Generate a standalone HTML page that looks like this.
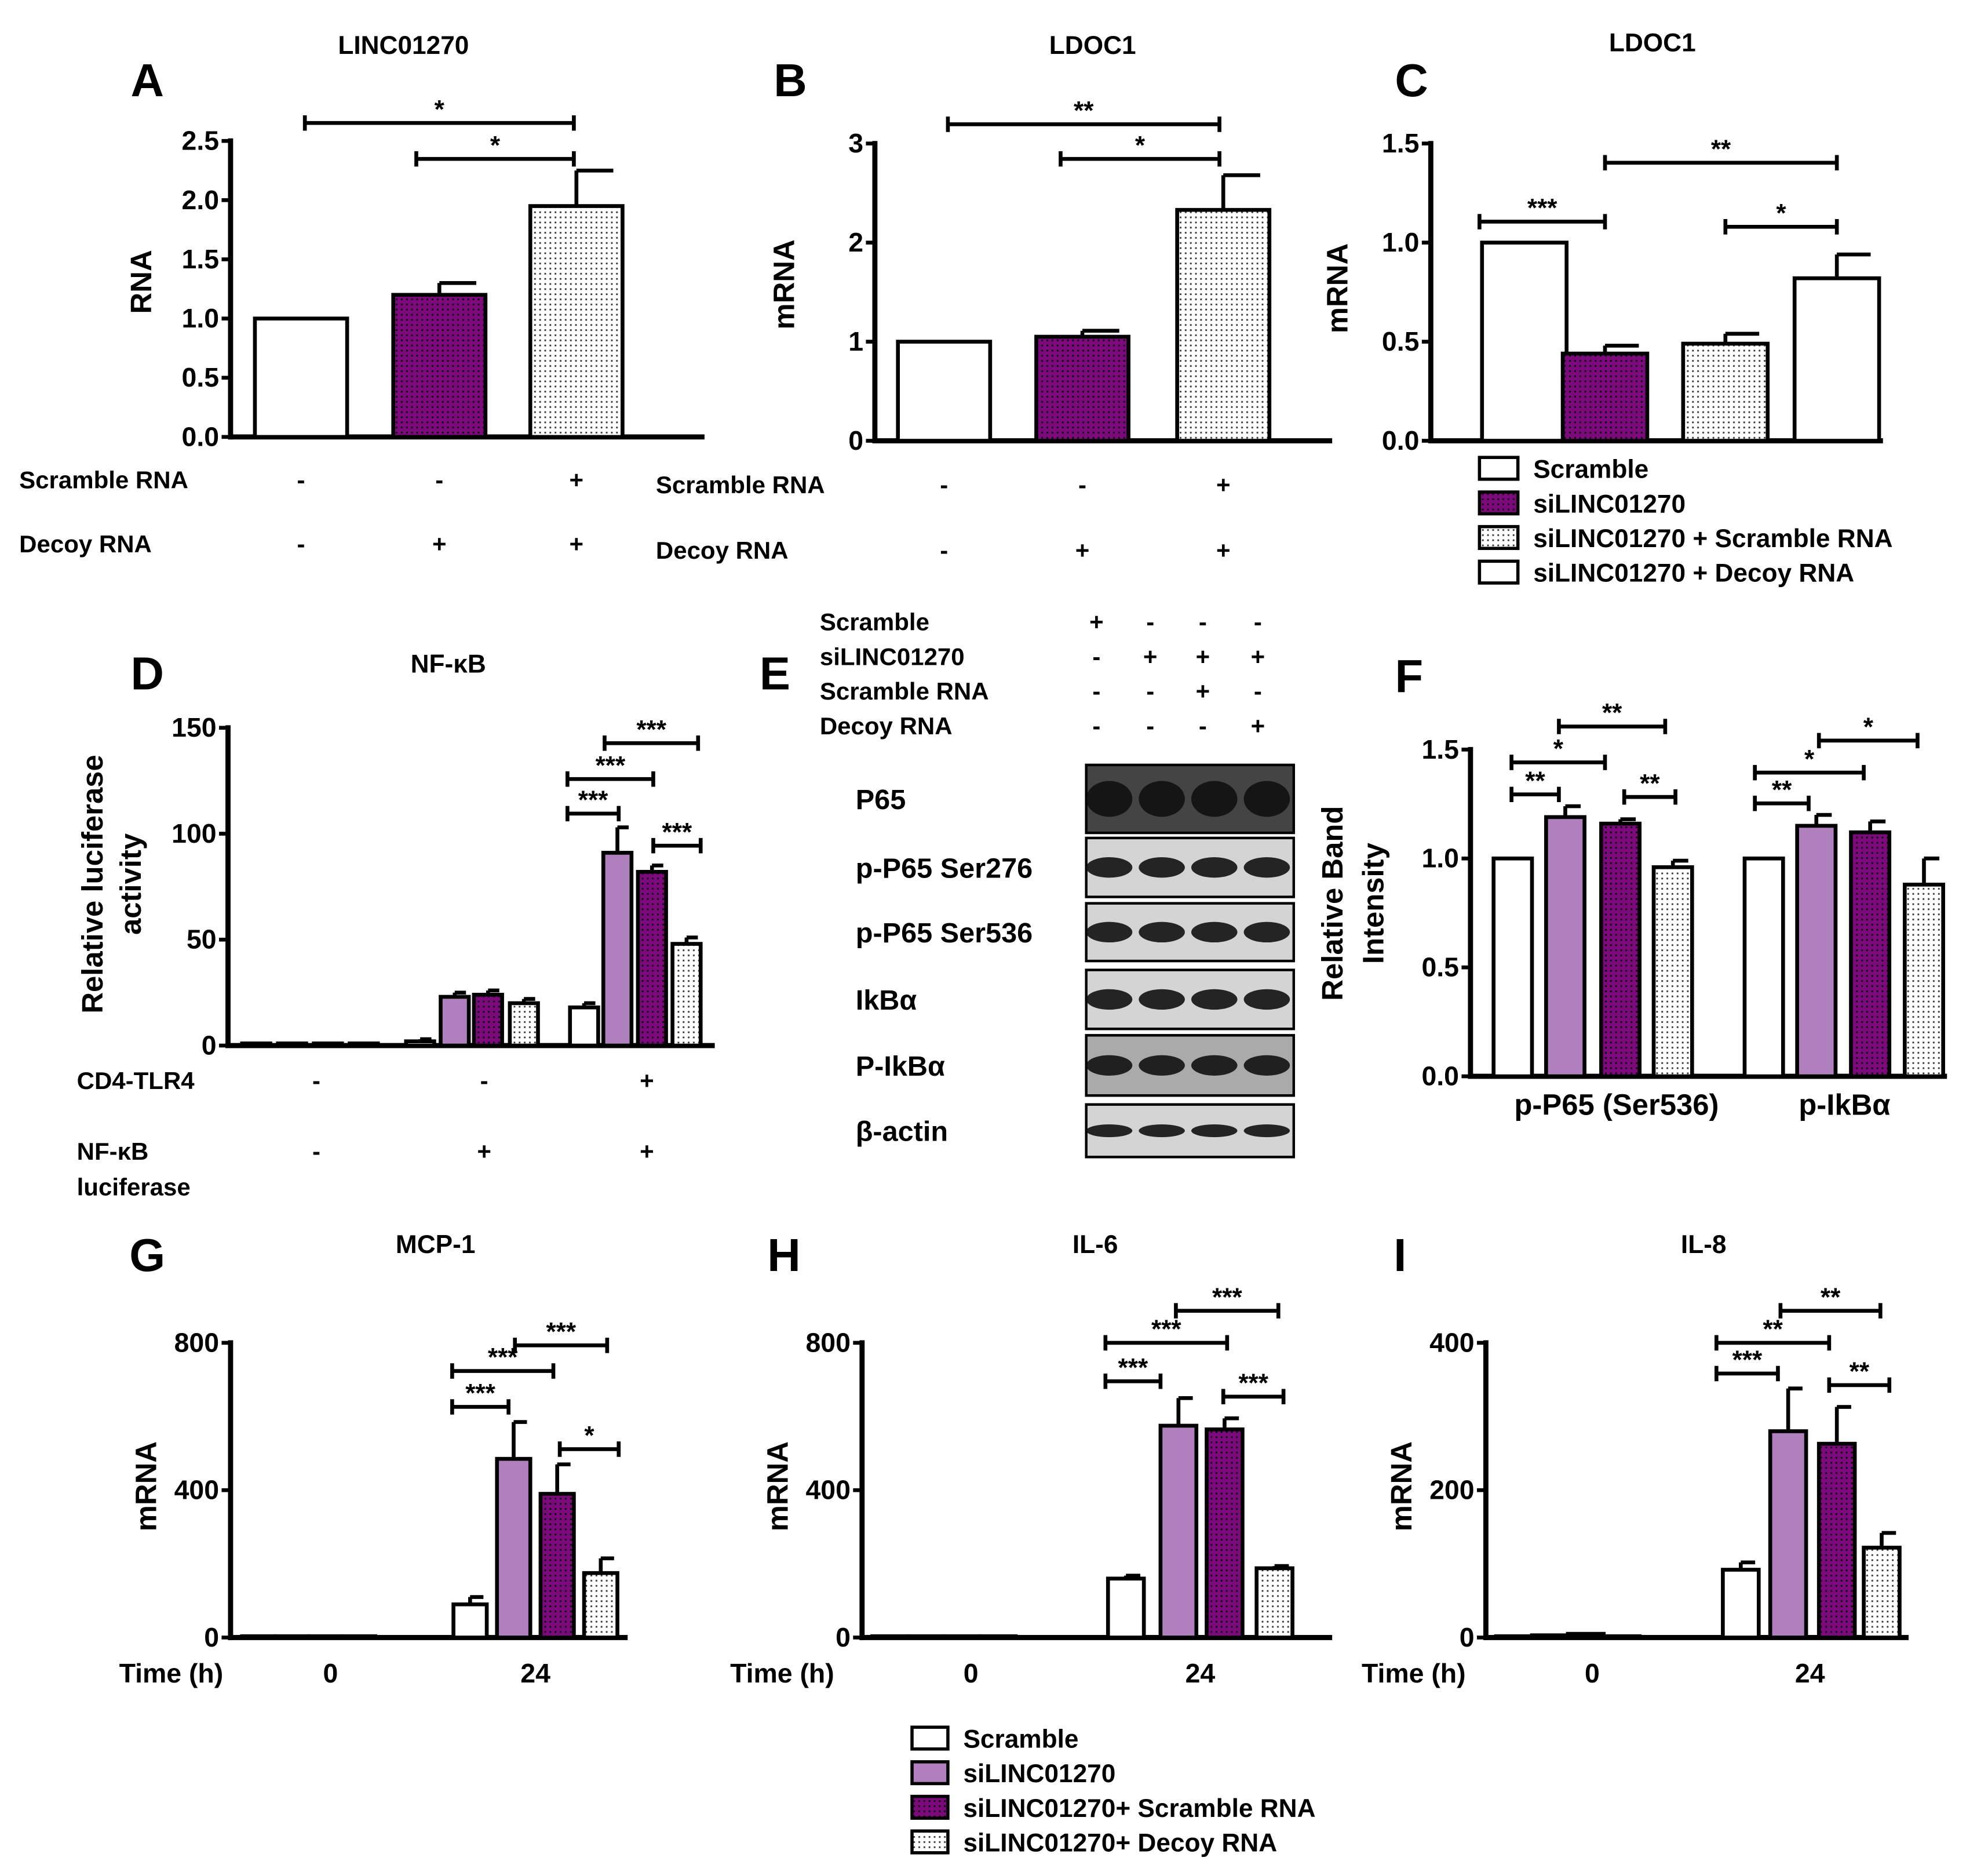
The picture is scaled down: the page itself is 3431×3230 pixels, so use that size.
<!DOCTYPE html>
<html><head><meta charset="utf-8">
<style>
html,body{margin:0;padding:0;background:#fff}
svg{display:block}
text{font-family:"Liberation Sans",Arial,sans-serif;font-weight:bold;fill:#000}
</style></head>
<body>
<svg id="fig" width="3431" height="3230" viewBox="0 0 1552 1461" preserveAspectRatio="none" xmlns="http://www.w3.org/2000/svg">
<defs>
<pattern id="pDark" width="4" height="4" patternUnits="userSpaceOnUse"><rect width="4" height="4" fill="#7d0a7d"/><rect x="1" y="1" width="1.3" height="1.3" fill="#000"/></pattern>
<pattern id="pLight" width="4" height="4" patternUnits="userSpaceOnUse"><rect width="4" height="4" fill="#fff"/><rect x="1" y="1" width="1.3" height="1.3" fill="#333"/></pattern>
</defs>
<g id="root"></g>
</svg>
<script>
// ---------- data ----------
const aCats = ["ctrl","decoy","scr+decoy"];
const aVals = [1.0, 1.2, 1.95];
const aErr  = [0, 0.1, 0.3];
const aTicks = ["0.0","0.5","1.0","1.5","2.0","2.5"];

const bVals = [1.0, 1.05, 2.33];
const bErr  = [0, 0.06, 0.35];
const bTicks = ["0","1","2","3"];

const cVals = [1.0, 0.44, 0.49, 0.82];
const cErr  = [0, 0.04, 0.05, 0.12];
const cTicks = ["0.0","0.5","1.0","1.5"];

const dVals = [[1,1,1,1],[2,23,24,20],[18,91,82,48]];
const dErr  = [[0,0,0,0],[1,2,2,2],[2,12,3,3]];
const dTicks = ["0","50","100","150"];

const fVals = [[1.0,1.19,1.16,0.96],[1.0,1.15,1.12,0.88]];
const fErr  = [[0,0.05,0.02,0.03],[0,0.05,0.05,0.12]];
const fTicks = ["0.0","0.5","1.0","1.5"];
const fCats = ["p-P65 (Ser536)","p-IkBα"];

const gVals = [[2,2,3,2],[90,485,390,175]];
const gErr  = [[0,0,0,0],[20,100,80,40]];
const hVals = [[2,3,3,2],[160,575,565,188]];
const hErr  = [[0,0,0,0],[8,75,30,6]];
const iVals = [[1,3,5,1],[92,280,263,122]];
const iErr  = [[0,0,0,0],[10,58,50,20]];
const ghTicks = ["0","400","800"];
const iTicks = ["0","200","400"];
const timeCats = ["0","24"];

// ---------- helpers ----------
const NS="http://www.w3.org/2000/svg";
const root=document.getElementById('root');
function el(tag,attrs,parent,txt){const e=document.createElementNS(NS,tag);for(const k in attrs)e.setAttribute(k,attrs[k]);if(txt!==undefined)e.textContent=txt;(parent||root).appendChild(e);return e;}
function txt(x,y,s,size,anchor,parent,rot){const a={x:x,y:y,'font-size':size,'text-anchor':anchor||'middle'};if(rot)a.transform=`rotate(-90 ${x} ${y})`;const t=el('text',a,parent,s);


return t;}
const fills=['#fff','#b080be','url(#pDark)','url(#pLight)'];
function scale(y0,y1,max){return v=>y0-(v/max)*(y0-y1);}
function axes(g,x0,x1,y0,y1,ticks,max){
 el('line',{x1:x0,y1:y1-2,x2:x0,y2:y0+2,stroke:'#000','stroke-width':4},g);
 el('line',{x1:x0-2,y1:y0,x2:x1,y2:y0,stroke:'#000','stroke-width':4},g);
 const sy=scale(y0,y1,max);
 ticks.forEach(t=>{const y=sy(parseFloat(t));el('line',{x1:x0-7,y1:y,x2:x0,y2:y,stroke:'#000','stroke-width':3},g);txt(x0-9,y+7,t,21,'end',g);});
 return sy;
}
function bar(g,cx,w,v,e,sy,y0,fill){
 const y=sy(v);
 if(e>0){const ye=sy(v+e);el('line',{x1:cx,y1:y,x2:cx,y2:ye,stroke:'#000','stroke-width':3},g);el('line',{x1:cx,y1:ye,x2:cx+w*0.4,y2:ye,stroke:'#000','stroke-width':3},g);}
 const r=el('rect',{x:cx-w/2,y:Math.min(y,y0-1),width:w,height:Math.max(y0-y,1),fill:fill,stroke:'#000','stroke-width':3},g);
 
 
}
function bracket(g,xa,xb,y,s){
 el('path',{d:`M${xa} ${y-6}V${y+6}M${xa} ${y}H${xb}M${xb} ${y-6}V${y+6}`,stroke:'#000','stroke-width':3,fill:'none'},g);
 txt((xa+xb)/2,y-4,s,20,'middle',g);
}
function panel(name){const g=el('g',{});return g;}

// ---------- Panel A ----------
let g=panel('panel-a');
txt(115,75,'A',36,'middle',g);txt(315,42,'LINC01270',20,'middle',g);
let sy=axes(g,180,550,341,110,aTicks,2.5);
[235,343,450].forEach((cx,i)=>bar(g,cx,72,aVals[i],aErr[i],sy,341,[fills[0],'url(#pDark)','url(#pLight)'][i]));
bracket(g,238,448,96,'*');bracket(g,325,448,124,'*');
txt(118,220,'RNA',23,'middle',g,true);
txt(15,381,'Scramble RNA',19,'start',g);txt(15,431,'Decoy RNA',19,'start',g);
['-','-','+'].forEach((s,i)=>txt([235,343,450][i],381,s,19,'middle',g));
['-','+','+'].forEach((s,i)=>txt([235,343,450][i],431,s,19,'middle',g));

// ---------- Panel B ----------
g=panel('panel-b');
txt(617,75,'B',36,'middle',g);txt(853,42,'LDOC1',20,'middle',g);
sy=axes(g,683,1040,344,112,bTicks,3);
[737,845,955].forEach((cx,i)=>bar(g,cx,72,bVals[i],bErr[i],sy,344,[fills[0],'url(#pDark)','url(#pLight)'][i]));
bracket(g,740,952,97,'**');bracket(g,828,952,124,'*');
txt(620,222,'mRNA',23,'middle',g,true);
txt(512,385,'Scramble RNA',19,'start',g);txt(512,436,'Decoy RNA',19,'start',g);
['-','-','+'].forEach((s,i)=>txt([737,845,955][i],385,s,19,'middle',g));
['-','+','+'].forEach((s,i)=>txt([737,845,955][i],436,s,19,'middle',g));

// ---------- Panel C ----------
g=panel('panel-c');
txt(1102,75,'C',36,'middle',g);txt(1290,40,'LDOC1',20,'middle',g);
sy=axes(g,1117,1470,344,112,cTicks,1.5);
[1190,1253,1347,1434].forEach((cx,i)=>bar(g,cx,66,cVals[i],cErr[i],sy,344,[fills[0],'url(#pDark)','url(#pLight)',fills[0]][i]));
bracket(g,1155,1253,173,'***');bracket(g,1253,1434,127,'**');bracket(g,1347,1434,177,'*');
txt(1052,225,'mRNA',23,'middle',g,true);
['Scramble','siLINC01270','siLINC01270 + Scramble RNA','siLINC01270 + Decoy RNA'].forEach((s,i)=>{const y=357+i*27;const r=el('rect',{x:1155,y:y,width:30,height:17,fill:[fills[0],'url(#pDark)','url(#pLight)',fills[0]][i],stroke:'#000','stroke-width':2.5},g);txt(1197,y+16,s,20,'start',g);});

// ---------- grouped helper ----------
function grouped(g,groupsCx,w,vals,errs,sy,y0){groupsCx.forEach((arr,gi)=>arr.forEach((cx,i)=>bar(g,cx,w,vals[gi][i],errs[gi][i],sy,y0,fills[i])));}

// ---------- Panel D ----------
g=panel('panel-d');
txt(115,538,'D',36,'middle',g);txt(350,525,'NF-κB',20,'middle',g);
sy=axes(g,178,558,816,568,dTicks,150);
grouped(g,[[200,228,256,284],[328,355,381,409],[456,482,509,536]],22,dVals,dErr,sy,816);
bracket(g,472,545,580,'***');bracket(g,443,510,608,'***');bracket(g,443,483,635,'***');bracket(g,510,547,660,'***');
txt(80,690,'Relative luciferase',23,'middle',g,true);txt(110,690,'activity',23,'middle',g,true);
txt(60,850,'CD4-TLR4',19,'start',g);txt(60,905,'NF-κB',19,'start',g);txt(60,933,'luciferase',19,'start',g);
['-','-','+'].forEach((s,i)=>txt([247,378,505][i],850,s,19,'middle',g));
['-','+','+'].forEach((s,i)=>txt([247,378,505][i],905,s,19,'middle',g));

// ---------- Panel E ----------
g=panel('panel-e');
txt(605,538,'E',36,'middle',g);
const eRows=['Scramble','siLINC01270','Scramble RNA','Decoy RNA'];
const eSigns=[['+','-','-','-'],['-','+','+','+'],['-','-','+','-'],['-','-','-','+']];
eRows.forEach((s,i)=>{const y=492+i*27;txt(640,y,s,19,'start',g);eSigns[i].forEach((sg,j)=>txt([856,898,939,982][j],y,sg,19,'middle',g));});
const blots=[['P65',597,650],['p-P65 Ser276',654,700],['p-P65 Ser536',705,750],['IkBα',757,803],['P-IkBα',808,855],['β-actin',862,903]];
blots.forEach((b,i)=>{const [lab,t,bt]=b;txt(668,(t+bt)/2+8,lab,22,'start',g);
 const bg=el('rect',{x:848,y:t,width:162,height:bt-t,fill:i==0?'#444':(i==4?'#aaa':'#d4d4d4'),stroke:'#000','stroke-width':2},g);
 
 [866,907,948,989].forEach(cx=>el('ellipse',{cx:cx,cy:(t+bt)/2,rx:18,ry:i==0?14:(i==5?5:8),fill:'#111',opacity:0.9},g));});

// ---------- Panel F ----------
g=panel('panel-f');
txt(1100,540,'F',36,'middle',g);
sy=axes(g,1148,1520,840,585,fTicks,1.5);
grouped(g,[[1181,1222,1265,1306],[1377,1418,1460,1502]],30,fVals,fErr,sy,840);
bracket(g,1217,1300,567,'**');bracket(g,1180,1253,595,'*');bracket(g,1180,1217,620,'**');bracket(g,1268,1308,622,'**');
bracket(g,1420,1497,578,'*');bracket(g,1370,1455,603,'*');bracket(g,1370,1412,627,'**');
txt(1048,705,'Relative Band',23,'middle',g,true);txt(1080,705,'Intensity',23,'middle',g,true);
fCats.forEach((c,i)=>txt([1262,1440][i],870,c,23,'middle',g));

// ---------- G/H/I ----------
function timePanel(name,letter,lx,title,tx,ax,x1,ticks,max,vals,errs,cxs,w,br,timeX){
 const g=panel(name);
 txt(lx,992,letter,36,'middle',g);txt(tx,978,title,20,'middle',g);
 const sy=axes(g,ax,x1,1278,1048,ticks,max);
 grouped(g,cxs,w,vals,errs,sy,1278);
 br.forEach(b=>bracket(g,b[0],b[1],b[2],b[3]));
 txt(ax-58,1160,'mRNA',23,'middle',g,true);
 txt(timeX[0],1313,'Time (h)',21,'start',g);
 timeCats.forEach((c,i)=>txt(timeX[i+1],1313,c,21,'middle',g));
}
timePanel('panel-g','G',115,'MCP-1',340,180,490,ghTicks,800,gVals,gErr,[[202,228,254,280],[367,401,435,469]],26,
 [[402,474,1050,'***'],[353,432,1070,'***'],[353,397,1098,'***'],[437,483,1131,'*']],[93,258,418]);
timePanel('panel-h','H',612,'IL-6',855,673,1040,ghTicks,800,hVals,hErr,[[695,723,751,779],[879,920,956,995]],28,
 [[918,998,1023,'***'],[863,958,1048,'***'],[863,906,1078,'***'],[955,1002,1090,'***']],[570,758,937]);
timePanel('panel-i','I',1093,'IL-8',1330,1160,1490,iTicks,400,iVals,iErr,[[1182,1210,1238,1266],[1359,1396,1434,1469]],28,
 [[1390,1468,1023,'**'],[1340,1428,1048,'**'],[1340,1388,1072,'***'],[1428,1475,1081,'**']],[1063,1243,1413]);

// ---------- bottom legend ----------
g=panel('bottom-legend');
['Scramble','siLINC01270','siLINC01270+ Scramble RNA','siLINC01270+ Decoy RNA'].forEach((s,i)=>{const y=1348+i*27;const r=el('rect',{x:712,y:y,width:28,height:17,fill:fills[i],stroke:'#000','stroke-width':2.5},g);txt(752,y+16,s,20,'start',g);});
</script>
</body></html>
